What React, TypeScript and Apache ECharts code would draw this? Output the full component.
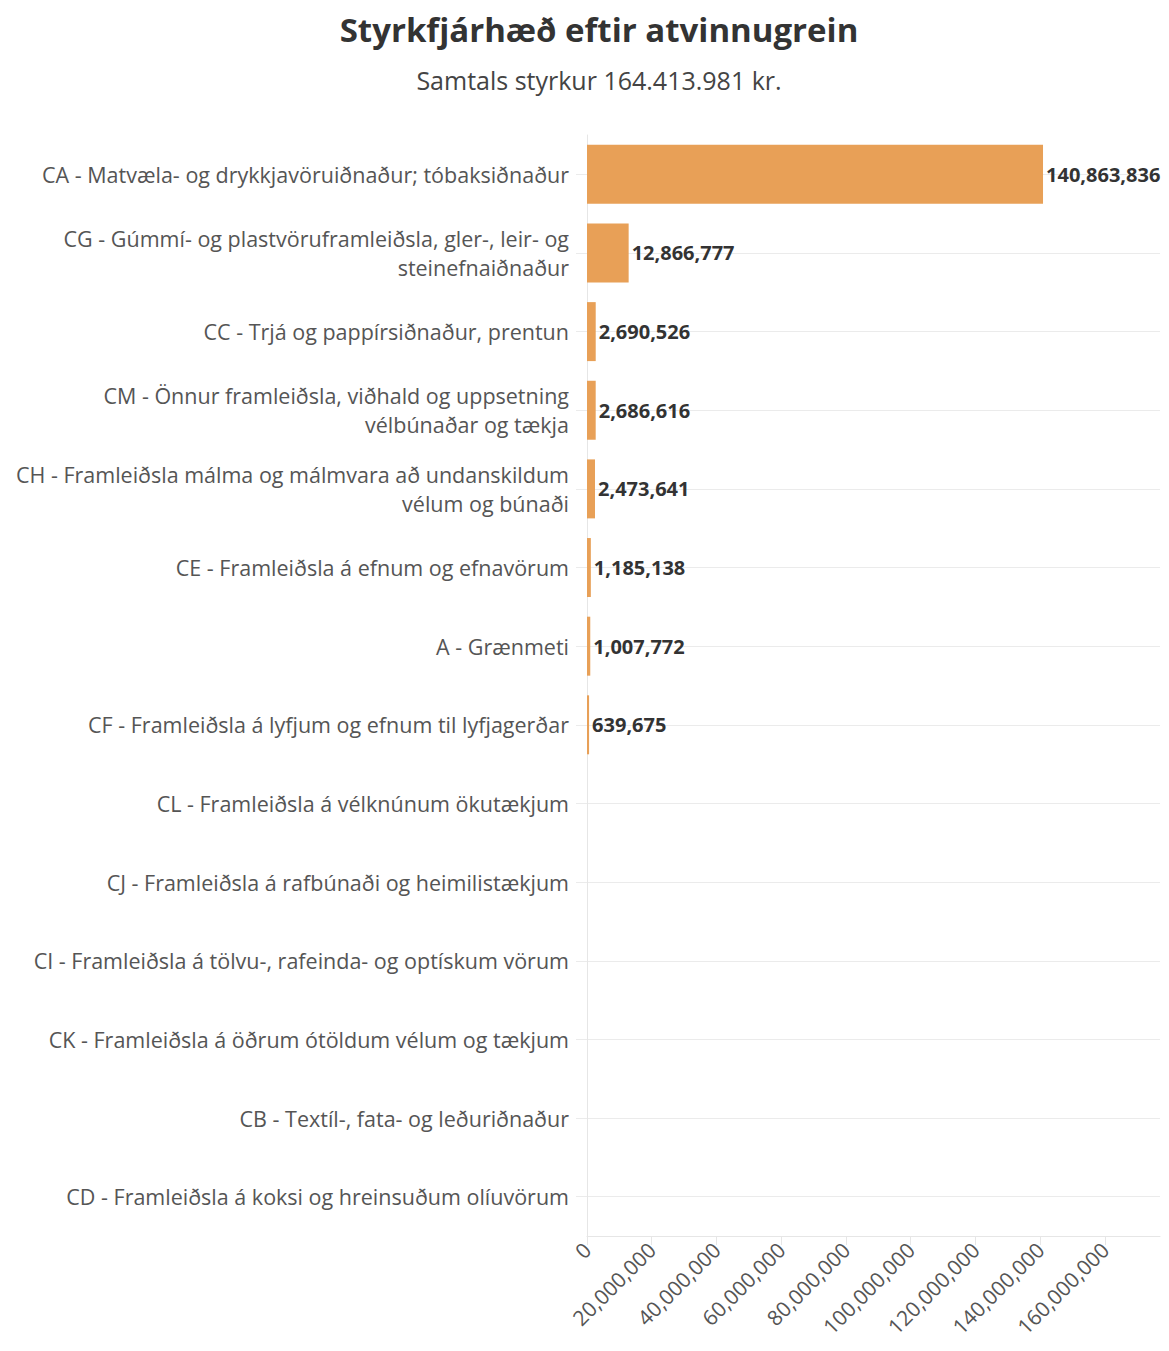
import React, { useEffect, useRef } from "react";
import * as echarts from "echarts";

const categories = [
  "CA - Matvæla- og drykkjavöruiðnaður; tóbaksiðnaður",
  "CG - Gúmmí- og plastvöruframleiðsla, gler-, leir- og\nsteinefnaiðnaður",
  "CC - Trjá og pappírsiðnaður, prentun",
  "CM - Önnur framleiðsla, viðhald og uppsetning\nvélbúnaðar og tækja",
  "CH - Framleiðsla málma og málmvara að undanskildum\nvélum og búnaði",
  "CE - Framleiðsla á efnum og efnavörum",
  "A - Grænmeti",
  "CF - Framleiðsla á lyfjum og efnum til lyfjagerðar",
  "CL - Framleiðsla á vélknúnum ökutækjum",
  "CJ - Framleiðsla á rafbúnaði og heimilistækjum",
  "CI - Framleiðsla á tölvu-, rafeinda- og optískum vörum",
  "CK - Framleiðsla á öðrum ótöldum vélum og tækjum",
  "CB - Textíl-, fata- og leðuriðnaður",
  "CD - Framleiðsla á koksi og hreinsuðum olíuvörum",
];

const values = [
  140863836, 12866777, 2690526, 2686616, 2473641, 1185138, 1007772, 639675,
  0, 0, 0, 0, 0, 0,
];

const xTicks = [0, 20000000, 40000000, 60000000, 80000000, 100000000, 120000000, 140000000, 160000000];

const titleText = "Styrkfjárhæð eftir atvinnugrein";
const subtitleText = "Samtals styrkur 164.413.981 kr.";

const FONT = "'Open Sans', 'Noto Sans', sans-serif";
const fmt = (v: number) => v.toLocaleString("en-US");

export default function App() {
  const ref = useRef<HTMLDivElement>(null);
  useEffect(() => {
    if (!ref.current) return;
    const chart = echarts.init(ref.current, undefined, { renderer: "svg" });
    chart.setOption({
      animation: false,
      textStyle: { fontFamily: FONT },
      title: [
        {
          text: titleText,
          left: 586,
          textAlign: "center",
          top: 0,
          textStyle: { fontSize: 33, fontWeight: "bold", color: "#333", fontFamily: FONT },
        },
        {
          text: subtitleText,
          left: 586,
          textAlign: "center",
          top: 54,
          textStyle: { fontSize: 25, fontWeight: "normal", color: "#444", fontFamily: FONT },
        },
      ],
      grid: { left: 579, right: 1, top: 127, bottom: 107, containLabel: false, outerBoundsMode: "none" },
      xAxis: {
        type: "value",
        min: 0,
        max: 177000000,
        interval: 20000000,
        axisLine: { show: true, lineStyle: { color: "#e6e6e6" } },
        axisTick: { show: true, length: 9, lineStyle: { color: "#e6e6e6" }, customValues: xTicks },
        splitLine: { show: false },
        axisLabel: {
          rotate: 45,
          margin: 10,
          fontSize: 21,
          color: "#555",
          fontFamily: FONT,
          customValues: xTicks,
          formatter: (v: number) => fmt(v),
        },
      },
      yAxis: {
        type: "category",
        data: categories,
        inverse: true,
        axisLine: { show: true, lineStyle: { color: "#e6e6e6" } },
        axisTick: { show: true, alignWithLabel: true, length: 11, lineStyle: { color: "#ebebeb" } },
        splitLine: { show: true, alignWithLabel: true, lineStyle: { color: "#ebebeb" } },
        axisLabel: {
          margin: 18,
          fontSize: 21.5,
          color: "#555",
          fontFamily: FONT,
          lineHeight: 29,
          align: "right",
        },
      },
      series: [
        {
          type: "bar",
          data: values,
          barCategoryGap: "25%",
          itemStyle: { color: "#E8A057" },
          label: {
            show: true,
            position: "right",
            distance: 3,
            fontSize: 20,
            fontWeight: "bold",
            color: "#333",
            fontFamily: FONT,
            formatter: (p: any) => (p.value > 0 ? fmt(p.value) : ""),
          },
        },
      ],
    });
    return () => chart.dispose();
  }, []);
  return <div ref={ref} style={{ width: 1153, height: 1335 }} />;
}
